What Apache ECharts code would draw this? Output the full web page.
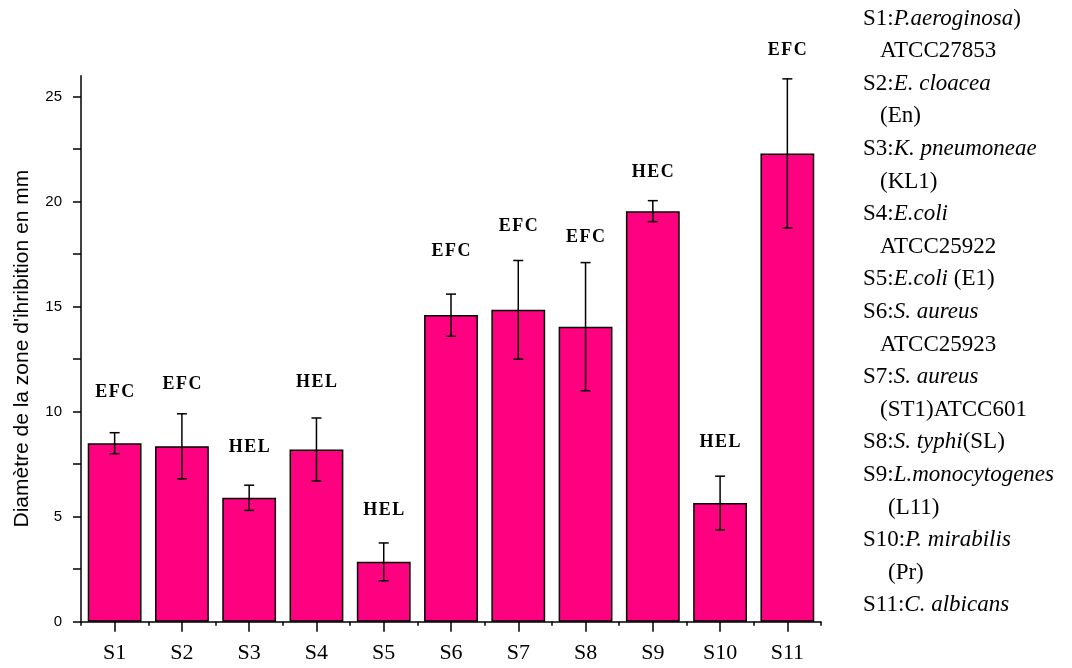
<!DOCTYPE html>
<html>
<head>
<meta charset="utf-8">
<script src="https://cdn.jsdelivr.net/npm/echarts@6/dist/echarts.min.js"></script>
<style>
  html, body { margin: 0; padding: 0; background: #fff; }
  #chart { width: 1072px; height: 668px; }
</style>
</head>
<body>
<div id="chart"></div>
<script>
const strains = ['S1', 'S2', 'S3', 'S4', 'S5', 'S6', 'S7', 'S8', 'S9', 'S10', 'S11'];
const diameters = [8.5, 8.35, 5.9, 8.2, 2.85, 14.6, 14.85, 14.05, 19.55, 5.65, 22.3];
const errors = [0.5, 1.55, 0.6, 1.5, 0.9, 1.0, 2.35, 3.05, 0.5, 1.28, 3.55];
const groups = ['EFC', 'EFC', 'HEL', 'HEL', 'HEL', 'EFC', 'EFC', 'EFC', 'HEC', 'HEL', 'EFC'];
const groupLevels = [10.9, 11.3, 8.3, 11.4, 5.3, 17.65, 18.85, 18.3, 21.4, 8.55, 27.2];
const yTicks = [0, 2.5, 5, 7.5, 10, 12.5, 15, 17.5, 20, 22.5, 25];
const yLabels = [0, 5, 10, 15, 20, 25];

// legend lines on the right: [prefix, italic name, suffix, indent]
const legendLines = [
  ['S1:', 'P.aeroginosa', ')', 0],
  ['ATCC27853', '', '', 1],
  ['S2:', 'E. cloacea', '', 0],
  ['(En)', '', '', 1],
  ['S3:', 'K. pneumoneae', '', 0],
  ['(KL1)', '', '', 1],
  ['S4:', 'E.coli', '', 0],
  ['ATCC25922', '', '', 1],
  ['S5:', 'E.coli', ' (E1)', 0],
  ['S6:', 'S. aureus', '', 0],
  ['ATCC25923', '', '', 1],
  ['S7:', 'S. aureus', '', 0],
  ['(ST1)ATCC601', '', '', 1],
  ['S8:', 'S. typhi', '(SL)', 0],
  ['S9:', 'L.monocytogenes', '', 0],
  ['(L11)', '', '', 2],
  ['S10:', 'P. mirabilis', '', 0],
  ['(Pr)', '', '', 2],
  ['S11:', 'C. albicans', '', 0]
];

const serif = '"Liberation Serif", "DejaVu Serif", serif';
const sans = '"Liberation Sans", Arial, sans-serif';

const legendText = legendLines.map(([a, b, c, ind]) => {
  let s = ind === 1 ? '{ind|' + a + '}' : ind === 2 ? '{ind2|' + a + '}' : '{n|' + a + '}';
  if (b) s += '{i|' + b + '}';
  if (c) s += '{n|' + c + '}';
  return s;
}).join('\n');

const chart = echarts.init(document.getElementById('chart'));

const errorData = strains.map((s, i) => [i, diameters[i] - errors[i], diameters[i] + errors[i], groupLevels[i]]);

const lh = 32.6;
const fs = 23;

chart.setOption({
  animation: false,
  backgroundColor: '#fff',
  grid: { left: 81, right: 251, top: 75.7, bottom: 46.3 },
  xAxis: [
    {
      type: 'category',
      data: strains,
      axisLine: { lineStyle: { color: '#000', width: 1.5 } },
      axisTick: { show: true, length: 4, lineStyle: { color: '#000', width: 1.5 } },
      axisLabel: { show: false }
    },
    {
      type: 'category',
      data: strains,
      position: 'bottom',
      axisLine: { show: false },
      axisTick: { show: true, alignWithLabel: true, length: 10, lineStyle: { color: '#000', width: 1.5 } },
      axisLabel: { color: '#000', fontFamily: serif, fontSize: 22, margin: 21 }
    }
  ],
  yAxis: {
    type: 'value',
    min: 0,
    max: 26,
    name: "Diamètre de la zone d'ihribition en mm",
    nameLocation: 'middle',
    nameGap: 48,
    nameTextStyle: { color: '#000', fontFamily: sans, fontSize: 21 },
    axisLine: { show: true, lineStyle: { color: '#000', width: 1.5 } },
    axisTick: { show: true, length: 8, customValues: yTicks, lineStyle: { color: '#000', width: 1.5 } },
    axisLabel: { customValues: yLabels, color: '#000', fontFamily: sans, fontSize: 15, margin: 19 },
    splitLine: { show: false }
  },
  series: [
    {
      type: 'bar',
      data: diameters,
      barCategoryGap: '20%',
      itemStyle: { color: '#ff0080', borderColor: '#000', borderWidth: 1.5 }
    },
    {
      type: 'custom',
      data: errorData,
      z: 5,
      renderItem: (params, api) => {
        const x = api.value(0);
        const lo = api.coord([x, api.value(1)]);
        const hi = api.coord([x, api.value(2)]);
        const lab = api.coord([x, api.value(3)]);
        const cap = 5;
        const style = { stroke: '#000', lineWidth: 1.5 };
        return {
          type: 'group',
          children: [
            { type: 'line', shape: { x1: lo[0], y1: lo[1], x2: hi[0], y2: hi[1] }, style },
            { type: 'line', shape: { x1: lo[0] - cap, y1: lo[1], x2: lo[0] + cap, y2: lo[1] }, style },
            { type: 'line', shape: { x1: hi[0] - cap, y1: hi[1], x2: hi[0] + cap, y2: hi[1] }, style },
            {
              type: 'text',
              x: lab[0], y: lab[1],
              style: {
                text: groups[params.dataIndex].split('').join('\u200a'),
                fill: '#000',
                font: 'bold 18px ' + serif,
                textAlign: 'center',
                textVerticalAlign: 'middle'
              }
            }
          ]
        };
      }
    }
  ],
  graphic: [
    {
      type: 'text',
      left: 863,
      top: 7,
      style: {
        text: legendText,
        fill: '#000',
        rich: {
          n: { fontFamily: serif, fontSize: fs, lineHeight: lh, fill: '#000' },
          i: { fontFamily: serif, fontSize: fs, fontStyle: 'italic', lineHeight: lh, fill: '#000' },
          ind: { fontFamily: serif, fontSize: fs, lineHeight: lh, padding: [0, 0, 0, 17], fill: '#000' },
          ind2: { fontFamily: serif, fontSize: fs, lineHeight: lh, padding: [0, 0, 0, 25], fill: '#000' }
        }
      }
    }
  ]
});
</script>
</body>
</html>
